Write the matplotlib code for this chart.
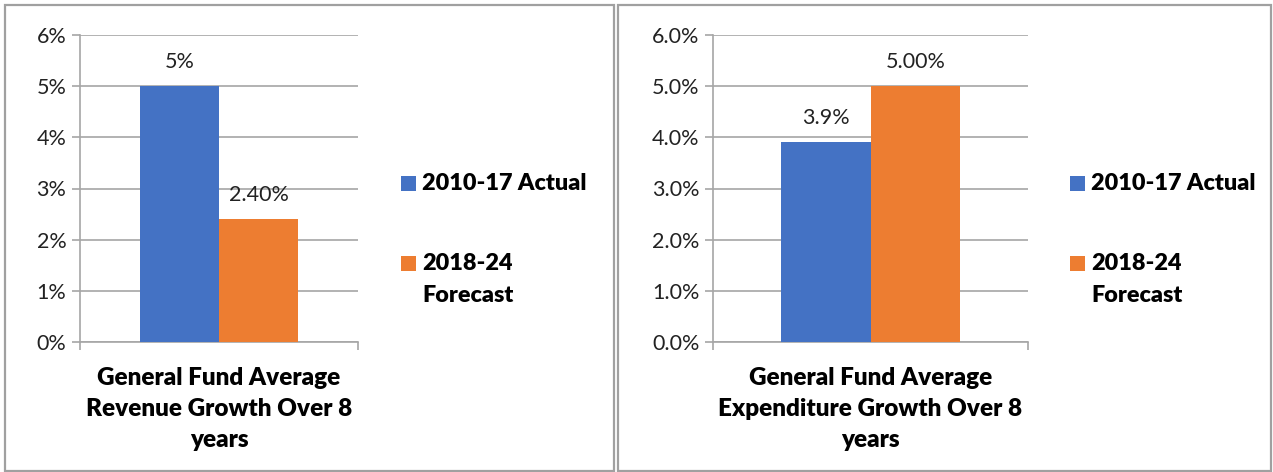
import matplotlib
matplotlib.use("Agg")
import matplotlib.pyplot as plt
from matplotlib.patches import Rectangle

plt.rcParams['font.family'] = ['Lato', 'DejaVu Sans']

# ---- data ----
series_names = ["2010-17 Actual", "2018-24 Forecast"]
legend_labels = [["2010-17 Actual"], ["2018-24", "Forecast"]]
colors = ["#4472C4", "#ED7D31"]

rev_category = "General Fund Average\nRevenue Growth Over 8\nyears"
rev_values = [5.0, 2.4]
rev_value_labels = ["5%", "2.40%"]
rev_ticks = [0, 1, 2, 3, 4, 5, 6]
rev_tick_labels = ["0%", "1%", "2%", "3%", "4%", "5%", "6%"]

exp_category = "General Fund Average\nExpenditure Growth Over 8\nyears"
exp_values = [3.9, 5.0]
exp_value_labels = ["3.9%", "5.00%"]
exp_ticks = [0, 1, 2, 3, 4, 5, 6]
exp_tick_labels = ["0.0%", "1.0%", "2.0%", "3.0%", "4.0%", "5.0%", "6.0%"]

W, H = 1273, 472
fig = plt.figure(figsize=(W / 100, H / 100), dpi=100)

GRID = "#a6a6a6"
FS = 15.5
FSB = 16.8
FSC = 17.5
BOLD = "heavy"


def fx(px):
    return px / W


def fy(py):
    return 1 - py / H


def panel(x0, x1, y0, y1):
    r = Rectangle((fx(x0), fy(y1)), fx(x1) - fx(x0), fy(y0) - fy(y1),
                  transform=fig.transFigure, fill=False, edgecolor="#a0a0a0", lw=1.6)
    fig.add_artist(r)


def legend(x, rows_y):
    for lines, c, ys in zip(legend_labels, colors, rows_y):
        fig.add_artist(Rectangle((fx(x), fy(ys[0] + 7.5)), fx(15), 15 / H,
                                 transform=fig.transFigure, facecolor=c,
                                 edgecolor="none"))
        for ln, y in zip(lines, ys):
            fig.text(fx(x + 21), fy(y), ln, fontsize=FSB, fontweight=BOLD,
                     ha="left", va="center", color="black")


def chart(ax_left, ax_right, values, vlabels, ticks, tlabels, category, legend_x):
    ax = fig.add_axes([fx(ax_left), fy(342), fx(ax_right) - fx(ax_left), fy(35) - fy(342)])
    bw = 0.285
    offs = [-bw / 2, bw / 2]
    for v, o, c, lab in zip(values, offs, colors, vlabels):
        ax.bar([o], [v], width=bw, color=c, zorder=3)
        ax.annotate(lab, (o, v), xytext=(0, 10.5), textcoords="offset points",
                    ha="center", va="bottom", fontsize=FS, color="#222222")
    ax.set_xlim(-0.5, 0.5)
    ax.set_ylim(0, 6)
    ax.set_yticks(ticks)
    ax.set_yticklabels(tlabels, fontsize=FS, color="#222222")
    ax.yaxis.grid(True, color=GRID, lw=1.2, zorder=0)
    ax.set_axisbelow(True)
    for s in ["top", "right"]:
        ax.spines[s].set_visible(False)
    for s in ["left", "bottom"]:
        ax.spines[s].set_color(GRID)
        ax.spines[s].set_linewidth(1.2)
    ax.tick_params(axis="y", length=5.8, width=1.2, color=GRID, pad=4)
    ax.set_xticks([-0.5, 0.5])
    ax.set_xticklabels(["", ""])
    ax.tick_params(axis="x", which="major", length=5.8, width=1.2, color=GRID)
    ax.set_xticks([0], minor=True)
    ax.set_xticklabels([category], minor=True, fontsize=FSC, fontweight=BOLD,
                       linespacing=1.5)
    ax.tick_params(axis="x", which="minor", length=0, pad=18)
    legend(legend_x, [[183], [263, 296]])
    return ax


panel(5, 614, 5, 471)
panel(618, 1271, 5, 471)

chart(80, 358, rev_values, rev_value_labels, rev_ticks, rev_tick_labels, rev_category, 401)
chart(713, 1028, exp_values, exp_value_labels, exp_ticks, exp_tick_labels, exp_category, 1070)

fig.savefig("out.png", dpi=100)
